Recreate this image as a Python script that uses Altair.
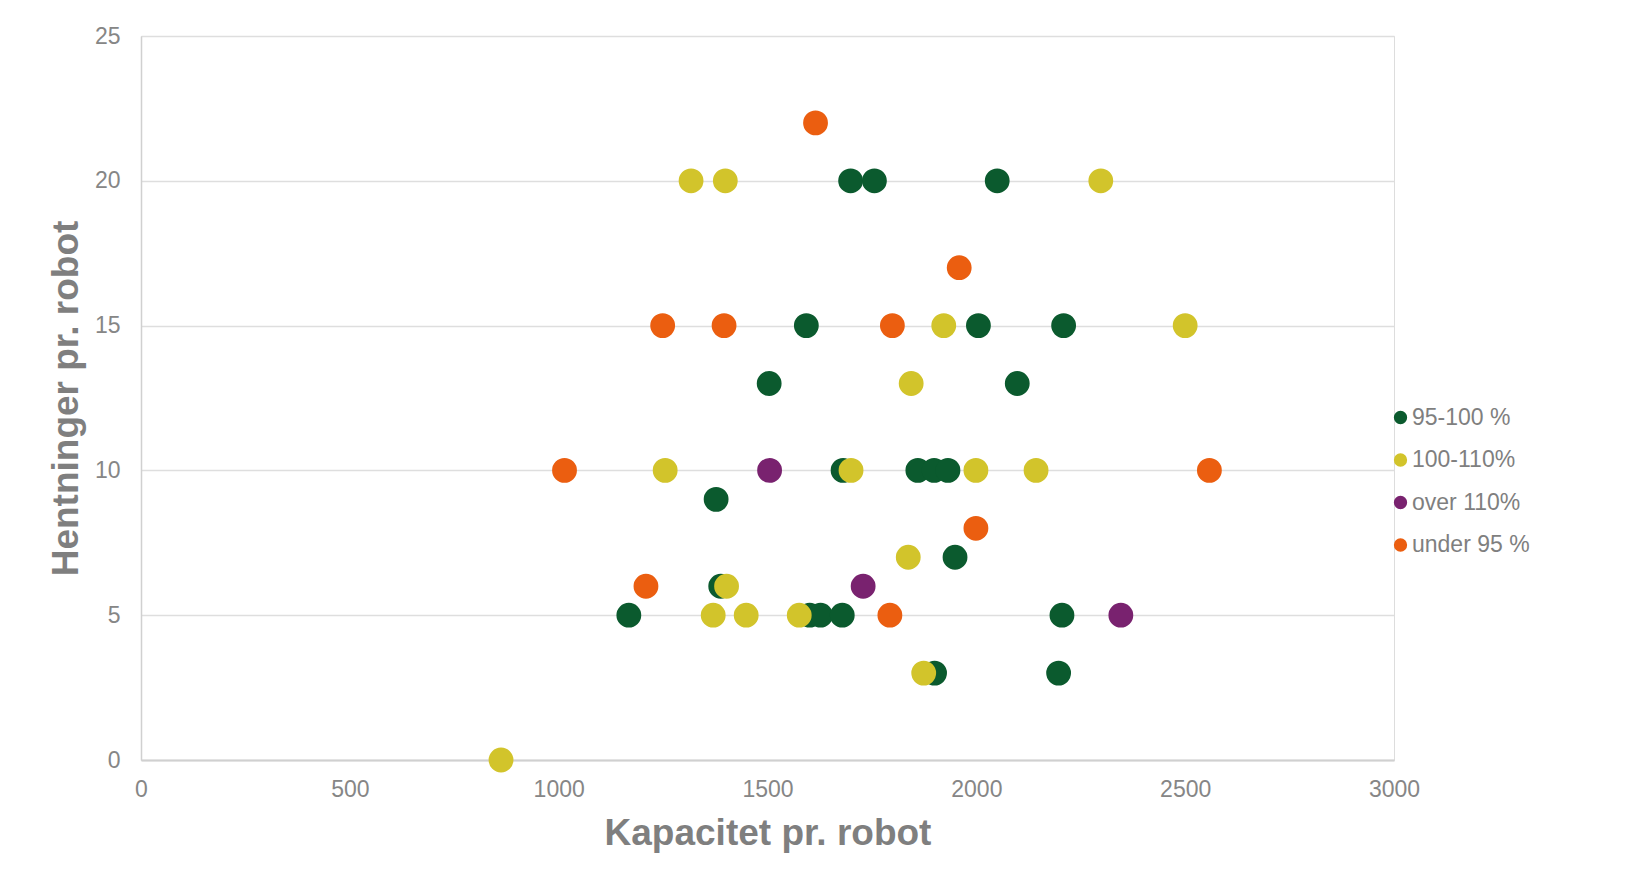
import altair as alt
import pandas as pd

groups = ["95-100 %", "100-110%", "over 110%", "under 95 %"]
colors = ["#0b5a2e", "#d2c42b", "#79226f", "#eb5e10"]

green_x = [1699, 1756, 2050, 1593, 2005, 2209, 1504, 2098, 1681, 1860, 1899, 1932, 1377, 1949, 1388, 1168, 1601, 1627, 1679, 2205, 1900, 2197]
green_y = [20, 20, 20, 15, 15, 15, 13, 13, 10, 10, 10, 10, 9, 7, 6, 5, 5, 5, 5, 5, 3, 3]

yellow_x = [1317, 1399, 2298, 1922, 2500, 1844, 1255, 1700, 1999, 2143, 1837, 1402, 1370, 1449, 1576, 1874, 862]
yellow_y = [20, 20, 20, 15, 15, 13, 10, 10, 10, 10, 7, 6, 5, 5, 5, 3, 0]

purple_x = [1505, 1729, 2346]
purple_y = [10, 6, 5]

orange_x = [1615, 1959, 1249, 1396, 1799, 1014, 2558, 1999, 1209, 1793]
orange_y = [22, 17, 15, 15, 15, 10, 10, 8, 6, 5]

x_ticks = [0, 500, 1000, 1500, 2000, 2500, 3000]
y_ticks = [0, 5, 10, 15, 20, 25]

series = [(green_x, green_y), (yellow_x, yellow_y), (purple_x, purple_y), (orange_x, orange_y)]
rows = []
for g, (xs, ys) in zip(groups, series):
    for xv, yv in zip(xs, ys):
        rows.append({"Kapacitet": xv, "Hentninger": yv, "Gruppe": g})
df = pd.DataFrame(rows)

FONT = "Liberation Sans"

chart = alt.Chart(df).mark_circle(size=616, opacity=1).encode(
    x=alt.X("Kapacitet:Q",
            scale=alt.Scale(domain=[0, 3000], nice=False, zero=False),
            axis=alt.Axis(title="Kapacitet pr. robot", values=x_ticks, format="d",
                          grid=False, ticks=False, tickSize=0, labelPadding=18,
                          labelFlush=False, labelOverlap=False,
                          domainColor="#d0d0d0", domainWidth=2,
                          labelFont=FONT, labelFontSize=23, labelColor="#868686",
                          titleFont=FONT, titleFontSize=37, titleFontWeight="bold", titleColor="#7f7f7f",
                          titleBaseline="alphabetic", titleY=84)),
    y=alt.Y("Hentninger:Q",
            scale=alt.Scale(domain=[0, 25], nice=False, zero=False),
            axis=alt.Axis(title="Hentninger pr. robot", values=y_ticks, format="d",
                          grid=True, gridColor="#dedede", gridWidth=1.5,
                          ticks=False, tickSize=0, labelPadding=21,
                          labelFlush=False, labelOverlap=False,
                          domainColor="#d0d0d0", domainWidth=1.5,
                          labelFont=FONT, labelFontSize=23, labelColor="#868686",
                          titleFont=FONT, titleFontSize=37, titleFontWeight="bold", titleColor="#7f7f7f",
                          titleBaseline="alphabetic", titleX=-64, titleAngle=-90)),
    color=alt.Color("Gruppe:N",
                    scale=alt.Scale(domain=groups, range=colors),
                    sort=groups,
                    legend=alt.Legend(title=None, orient="none", legendX=1248, legendY=370,
                                      symbolType="circle", symbolSize=177, symbolOpacity=1,
                                      symbolStrokeWidth=0, labelOffset=0, padding=0,
                                      rowPadding=18.5, labelFont=FONT, labelFontSize=23,
                                      labelColor="#7f7f7f", labelLimit=300)),
).properties(
    width=1253,
    height=724,
    autosize=alt.AutoSizeParams(type="none"),
    padding={"left": 133, "top": 28, "right": 226, "bottom": 113},
).configure_view(stroke=None).configure(background="white")

chart.save("out.html", embed_options={"renderer": "svg", "actions": False})
